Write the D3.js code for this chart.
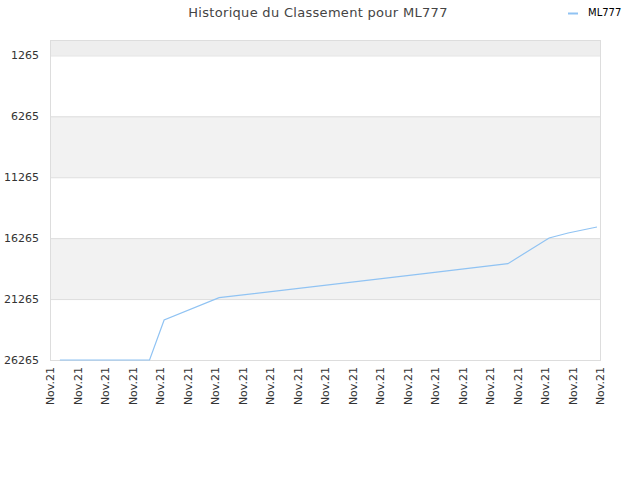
<!DOCTYPE html>
<html>
<head>
<meta charset="utf-8">
<script src="https://cdn.jsdelivr.net/npm/d3@7"></script>
<style>
  body { margin: 0; background: #fff; }
  svg { font-family: "DejaVu Sans", sans-serif; }
</style>
</head>
<body>
<script>
// chart data
var seriesName = "ML777";
var dayPos = [0.36, 3.62, 4.15, 6.15, 13.45, 16.65, 18.15, 18.84, 19.89];
var rankValues = [26265, 26265, 22980, 21150, 19210, 18360, 16250, 15840, 15350];
var xTickLabels = d3.range(21).map(function() { return "Nov.21"; });
var yTicks = [1265, 6265, 11265, 16265, 21265, 26265];

var margin = {top: 40, right: 40, bottom: 120, left: 50},
    width = 640 - margin.left - margin.right,
    height = 480 - margin.top - margin.bottom;

var x = d3.scaleLinear().domain([0, 20]).range([0, width]);
var y = d3.scaleLinear().domain([0, 26265]).range([0, height]);

var svg = d3.select("body").append("svg")
    .attr("width", 640)
    .attr("height", 480);

var g = svg.append("g")
    .attr("transform", "translate(" + margin.left + "," + margin.top + ")");

// background bands
var edges = [0].concat(yTicks);
for (var i = 0; i < edges.length - 1; i++) {
  var fill = i === 0 ? "#eeeeee" : (i % 2 === 0 ? "#f2f2f2" : "#ffffff");
  g.append("rect")
    .attr("x", 0)
    .attr("y", y(edges[i]))
    .attr("width", width)
    .attr("height", y(edges[i + 1]) - y(edges[i]))
    .attr("fill", fill);
}

// grid lines
g.selectAll(".grid")
  .data(yTicks)
  .enter().append("line")
    .attr("x1", 0)
    .attr("x2", width)
    .attr("y1", function(d) { return y(d) + 0.5; })
    .attr("y2", function(d) { return y(d) + 0.5; })
    .attr("stroke", "#dddddd");

// frame
g.append("rect")
  .attr("x", 0.5)
  .attr("y", 0.5)
  .attr("width", width)
  .attr("height", height)
  .attr("fill", "none")
  .attr("stroke", "#dddddd");

// y axis labels
var yAxis = g.append("g")
  .call(d3.axisLeft(y).tickValues(yTicks).tickFormat(d3.format("d")).tickSize(0).tickPadding(11));
yAxis.select(".domain").remove();
yAxis.selectAll("text")
  .attr("fill", "#333")
  .style("font-size", "11px")
  .style("font-family", "DejaVu Sans, sans-serif");

// x axis labels
var xAxis = g.append("g")
  .attr("transform", "translate(0," + height + ")")
  .call(d3.axisBottom(x).tickValues(d3.range(21)).tickFormat(function(d) { return xTickLabels[d]; }).tickSize(0));
xAxis.select(".domain").remove();
xAxis.selectAll("text")
  .attr("fill", "#333")
  .style("font-size", "11px")
  .style("font-family", "DejaVu Sans, sans-serif")
  .style("text-anchor", "end")
  .attr("transform", "rotate(-90)")
  .attr("x", -7)
  .attr("y", 0)
  .attr("dy", "0.35em");

// line
var points = dayPos.map(function(d, i) { return {day: d, rank: rankValues[i]}; });
var valueline = d3.line()
  .x(function(d) { return x(d.day); })
  .y(function(d) { return y(d.rank); });

g.append("path")
  .datum(points)
  .attr("d", valueline)
  .attr("fill", "none")
  .attr("stroke", "#90c3f3")
  .attr("stroke-width", 1.2);

// title
svg.append("text")
  .attr("x", 318)
  .attr("y", 17)
  .attr("text-anchor", "middle")
  .attr("fill", "#444")
  .style("font-size", "13px")
  .style("letter-spacing", "0.3px")
  .text("Historique du Classement pour ML777");

// legend
svg.append("line")
  .attr("x1", 568).attr("x2", 578)
  .attr("y1", 13.5).attr("y2", 13.5)
  .attr("stroke", "#90c3f3")
  .attr("stroke-width", 2);
svg.append("text")
  .attr("x", 588)
  .attr("y", 16)
  .attr("fill", "#000")
  .style("font-size", "10px")
  .text(seriesName);
</script>
</body>
</html>
